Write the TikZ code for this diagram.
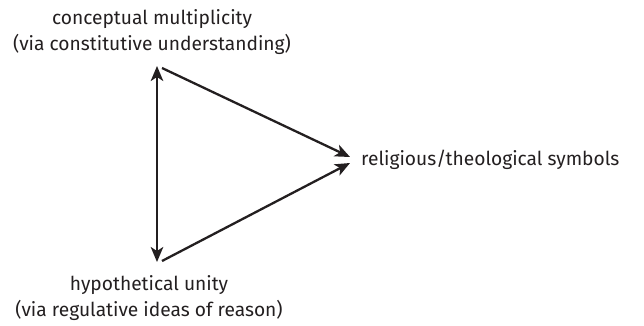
\documentclass[tikz,border=0pt]{standalone}
\usepackage{fontspec}
\setmainfont{Fira Sans}
\usetikzlibrary{arrows.meta}
\definecolor{ink}{HTML}{231F20}
\begin{document}
\begin{tikzpicture}[x=1pt,y=1pt,
  lbl/.style={font=\fontsize{19.2}{26.5}\selectfont, align=center, inner sep=0pt, text=ink},
  conn/.style={draw=ink, line width=2.3pt, -{Stealth[length=15pt,width=12.5pt,inset=4pt]}},
  biconn/.style={draw=ink, line width=2.3pt, {Stealth[length=15pt,width=12.5pt,inset=4pt]}-{Stealth[length=15pt,width=12.5pt,inset=4pt]}}]
\useasboundingbox (0,0) rectangle (644,325);
\node[lbl] (top) at (152,293) {conceptual multiplicity\\(via constitutive understanding)};
\node[lbl] (bot) at (149,27) {hypothetical unity\\(via regulative ideas of reason)};
\node[lbl, anchor=west] (right) at (361,165) {religious/theological symbols};
\coordinate (tv) at (157,259);
\coordinate (bv) at (157,63);
\coordinate (tl) at (162,257);
\coordinate (bl) at (162,64);
\coordinate (ru) at (350,168);
\coordinate (rl) at (350,162);
\draw[biconn] (bv) -- (tv);
\draw[conn] (tl) -- (ru);
\draw[conn] (bl) -- (rl);
\end{tikzpicture}
\end{document}
